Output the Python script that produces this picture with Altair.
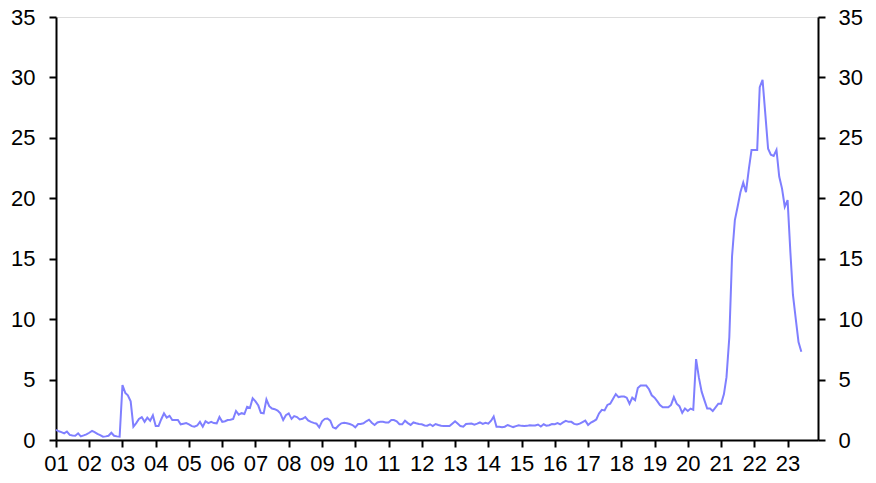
import altair as alt
import pandas as pd

years = list(range(2001, 2024))

v2001 = [0.83, 0.72, 0.65, 0.55, 0.70, 0.42, 0.38, 0.35, 0.55, 0.30, 0.38, 0.47]
v2002 = [0.60, 0.75, 0.65, 0.50, 0.40, 0.27, 0.30, 0.35, 0.60, 0.35, 0.30, 0.27]
v2003 = [4.55, 3.90, 3.70, 3.20, 1.10, 1.40, 1.75, 1.90, 1.50, 1.85, 1.60, 2.05]
v2004 = [1.15, 1.15, 1.70, 2.20, 1.85, 2.00, 1.65, 1.65, 1.65, 1.30, 1.35, 1.40]
v2005 = [1.30, 1.15, 1.10, 1.20, 1.50, 1.10, 1.55, 1.40, 1.50, 1.40, 1.38, 1.90]
v2006 = [1.50, 1.55, 1.65, 1.68, 1.75, 2.40, 2.10, 2.22, 2.15, 2.75, 2.65, 3.45]
v2007 = [3.20, 2.85, 2.25, 2.20, 3.35, 2.80, 2.60, 2.55, 2.43, 2.20, 1.65, 2.05]
v2008 = [2.20, 1.75, 1.98, 1.90, 1.70, 1.75, 1.90, 1.62, 1.50, 1.42, 1.35, 1.05]
v2009 = [1.55, 1.75, 1.78, 1.60, 1.05, 0.95, 1.20, 1.38, 1.42, 1.38, 1.32, 1.24]
v2010 = [1.05, 1.32, 1.32, 1.38, 1.55, 1.68, 1.43, 1.24, 1.45, 1.50, 1.50, 1.45]
v2011 = [1.45, 1.65, 1.65, 1.55, 1.30, 1.30, 1.60, 1.40, 1.25, 1.45, 1.38, 1.32]
v2012 = [1.30, 1.20, 1.18, 1.30, 1.15, 1.32, 1.24, 1.18, 1.15, 1.15, 1.15, 1.35]
v2013 = [1.55, 1.35, 1.15, 1.10, 1.32, 1.35, 1.36, 1.27, 1.35, 1.45, 1.33, 1.43]
v2014 = [1.35, 1.60, 1.95, 1.10, 1.10, 1.05, 1.10, 1.24, 1.15, 1.07, 1.15, 1.22]
v2015 = [1.17, 1.15, 1.17, 1.22, 1.20, 1.20, 1.28, 1.12, 1.30, 1.18, 1.22, 1.32]
v2016 = [1.30, 1.40, 1.30, 1.45, 1.58, 1.50, 1.50, 1.33, 1.28, 1.35, 1.48, 1.60]
v2017 = [1.25, 1.45, 1.55, 1.70, 2.20, 2.50, 2.45, 2.90, 3.00, 3.40, 3.80, 3.55]
v2018 = [3.60, 3.60, 3.50, 3.00, 3.50, 3.30, 4.30, 4.50, 4.50, 4.50, 4.20, 3.70]
v2019 = [3.50, 3.20, 2.90, 2.70, 2.70, 2.70, 2.90, 3.55, 3.00, 2.80, 2.25, 2.60]
v2020 = [2.40, 2.60, 2.50, 6.70, 5.20, 4.00, 3.30, 2.60, 2.60, 2.40, 2.70, 3.00]
v2021 = [3.00, 3.80, 5.20, 8.50, 15.20, 18.20, 19.30, 20.50, 21.30, 20.50, 22.40, 24.00]
v2022 = [24.00, 24.00, 29.20, 29.80, 27.00, 24.10, 23.60, 23.50, 24.00, 21.80, 20.80, 19.30]
v2023 = [19.85, 15.50, 12.00, 10.00, 8.10, 7.30]

series = [v2001, v2002, v2003, v2004, v2005, v2006, v2007, v2008, v2009, v2010,
          v2011, v2012, v2013, v2014, v2015, v2016, v2017, v2018, v2019, v2020,
          v2021, v2022, v2023]

rows = []
for y, vals in zip(years, series):
    for m, v in enumerate(vals):
        rows.append({"date": f"{y}-{m + 1:02d}-01T00:00:00", "value": v})
df = pd.DataFrame(rows)

y_ticks = [0, 5, 10, 15, 20, 25, 30, 35]
x_ticks = [alt.DateTime(year=y, month=1, date=1) for y in years]

FONT = "Liberation Sans"
LINE_COLOR = "#7f7fff"

x_enc = alt.X(
    "date:T",
    scale=alt.Scale(domain=[alt.DateTime(year=2001, month=1, date=1),
                            alt.DateTime(year=2023, month=12, date=1)]),
    axis=alt.Axis(values=x_ticks, format="%y", title=None, grid=False,
                  labelOverlap=False, labelFlush=False, tickSize=7,
                  tickWidth=2, domainWidth=2, domainColor="black",
                  tickColor="black", labelPadding=6, labelFontSize=22,
                  labelFont=FONT, labelColor="black"),
)

y_scale = alt.Scale(domain=[0, 35], nice=False, zero=True)

left = alt.Chart(df).mark_line(color=LINE_COLOR, strokeWidth=2).encode(
    x=x_enc,
    y=alt.Y("value:Q", scale=y_scale,
            axis=alt.Axis(values=y_ticks, orient="left", title=None, grid=False,
                          tickSize=7, tickWidth=2, domainWidth=2,
                          domainColor="black", tickColor="black",
                          labelPadding=14, labelFontSize=22, labelFont=FONT,
                          labelColor="black")),
)

right = alt.Chart(df).mark_line(opacity=0).encode(
    x=x_enc,
    y=alt.Y("value:Q", scale=y_scale,
            axis=alt.Axis(values=y_ticks, orient="right", title=None, grid=False,
                          tickSize=7, tickWidth=2, domainWidth=2,
                          domainColor="black", tickColor="black",
                          labelPadding=13, labelFontSize=22, labelFont=FONT,
                          labelColor="black")),
)

chart = alt.layer(left, right).resolve_scale(y="shared").resolve_axis(
    y="independent"
).properties(
    width=762, height=423,
    autosize=alt.AutoSizeParams(type="none"),
    padding={"left": 48, "top": 9, "right": 50, "bottom": 40},
).configure_view(stroke=None).configure(background="white")

chart.save("out.html", embed_options={"renderer": "svg", "actions": False})
